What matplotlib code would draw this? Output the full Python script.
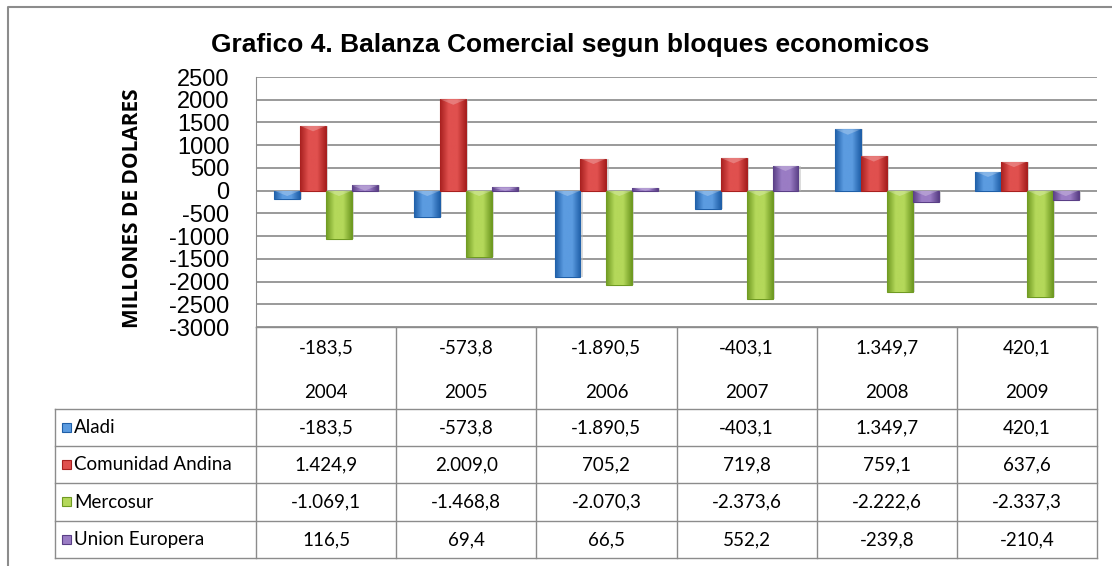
import matplotlib
matplotlib.use("Agg")
import matplotlib.pyplot as plt
import numpy as np
from matplotlib.colors import LinearSegmentedColormap

years = ["2004", "2005", "2006", "2007", "2008", "2009"]
series = ["Aladi", "Comunidad Andina", "Mercosur", "Union Europera"]
aladi = [-183.5, -573.8, -1890.5, -403.1, 1349.7, 420.1]
can = [1424.9, 2009.0, 705.2, 719.8, 759.1, 637.6]
mercosur = [-1069.1, -1468.8, -2070.3, -2373.6, -2222.6, -2337.3]
ue = [116.5, 69.4, 66.5, 552.2, -239.8, -210.4]
valores = [aladi, can, mercosur, ue]
colores = [("#1f5fa8", "#5b9be0"), ("#a8201f", "#e0504e"),
           ("#6f9a22", "#b4d85a"), ("#5a3f86", "#9a7cc4")]

def fmt(v):
    s = "{:,.1f}".format(v)
    return s.replace(",", "X").replace(".", ",").replace("X", ".")

W, H = 1112, 566
fig = plt.figure(figsize=(W / 100, H / 100), dpi=100)
fuente = ["Lato", "DejaVu Sans"]
tam = 13.5

# area del grafico en pixeles
x0, x1, ytop, ybot = 256, 1097, 77, 327
ax = fig.add_axes([x0 / W, 1 - ybot / H, (x1 - x0) / W, (ybot - ytop) / H])
ax.set_xlim(0, 6)
ax.set_ylim(-3000, 2500)
ax.set_yticks(np.arange(-3000, 2501, 500))
ax.set_yticklabels([str(t) for t in range(-3000, 2501, 500)], fontsize=17,
                   family=["Liberation Sans"])
ax.tick_params(axis="y", length=0, pad=19)
ax.set_xticks([])
for s in ["top", "right", "bottom"]:
    ax.spines[s].set_visible(False)
ax.spines["left"].set_color("#8c8c8c")
ax.grid(axis="y", color="#9a9a9a", lw=1.4)
ax.set_axisbelow(True)

ancho = 0.185
xs = np.arange(6) + 0.5
for i, (vals, (oscuro, claro)) in enumerate(zip(valores, colores)):
    pos = xs + (i - 1.5) * ancho
    # sombra
    ax.bar(pos + 0.015, vals, ancho, bottom=0, color="#bbbbbb", alpha=0.5,
           zorder=2, linewidth=0)
    barras = ax.bar(pos, vals, ancho, color=claro, edgecolor=oscuro,
                    linewidth=0.8, zorder=3)
    cmap = LinearSegmentedColormap.from_list("g", [oscuro, claro, claro, oscuro])
    grad = np.linspace(0, 1, 64).reshape(1, -1)
    for b in barras:
        bx, by = b.get_x(), b.get_y()
        bw, bh = b.get_width(), b.get_height()
        im = ax.imshow(grad, cmap=cmap, aspect="auto", zorder=3.5,
                       extent=[bx, bx + bw, min(by, by + bh), max(by, by + bh)])
        im.set_clip_path(b)
        # bisel superior
        top = 0 if bh < 0 else bh
        d = min(abs(bh), 120)
        ax.fill([bx, bx + bw, bx + bw / 2], [top, top, top - d],
                color="white", alpha=0.25, zorder=4, lw=0)
ax.set_xlim(0, 6)
ax.set_ylim(-3000, 2500)

# capa para textos y tabla
ov = fig.add_axes([0, 0, 1, 1])
ov.set_xlim(0, W)
ov.set_ylim(H, 0)
ov.axis("off")

gris = "#8c8c8c"
ov.plot([8, 8, W], [H, 7, 7], color=gris, lw=1.5)
ov.text(570, 45, "Grafico 4. Balanza Comercial segun bloques economicos",
        ha="center", va="center", fontsize=19, fontweight="bold",
        family=["Liberation Sans"])
ov.text(133, 208, "MILLONES DE DOLARES", rotation=90, ha="center",
        va="center", fontsize=15, fontweight="bold", family=["Open Sans"])

cw = (x1 - x0) / 6
filas = [409, 446, 483, 521, 558]
# celdas de categorias
for k in range(7):
    xx = x0 + k * cw
    ov.plot([xx, xx], [ybot, filas[-1]], color=gris, lw=1)
ov.plot([x0, x1], [ybot, ybot], color=gris, lw=1)
for k in range(6):
    cx = x0 + (k + 0.5) * cw
    ov.text(cx, 348, fmt(aladi[k]), ha="center", va="center", fontsize=tam,
            family=fuente)
    ov.text(cx, 392, years[k], ha="center", va="center", fontsize=tam,
            family=fuente)
# tabla de leyenda
lx = 55
for y in filas:
    ov.plot([lx, x1], [y, y], color=gris, lw=1)
ov.plot([lx, lx], [filas[0], filas[-1]], color=gris, lw=1)
for r, (nombre, vals, (oscuro, claro)) in enumerate(zip(series, valores, colores)):
    cy = (filas[r] + filas[r + 1]) / 2
    ov.add_patch(plt.Rectangle((62, cy - 5), 9, 9, facecolor=claro,
                               edgecolor=oscuro, lw=0.8))
    ov.text(74, cy, nombre, ha="left", va="center", fontsize=tam, family=fuente)
    for k in range(6):
        cx = x0 + (k + 0.5) * cw
        ov.text(cx, cy, fmt(vals[k]), ha="center", va="center", fontsize=tam,
                family=fuente)

fig.savefig("out.png", dpi=100)
